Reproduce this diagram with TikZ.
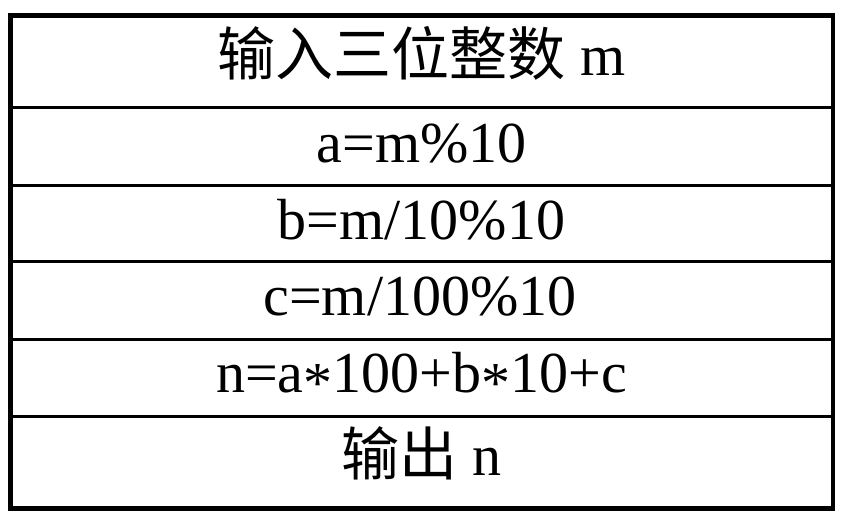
\documentclass[tikz,border=0pt]{standalone}
\usepackage{fontspec}
\setmainfont{Liberation Serif}
\newfontfamily\cjk{Noto Sans CJK SC}
\newcommand{\myast}{\raisebox{-0.18em}{*}}
\begin{document}
\begin{tikzpicture}[x=1pt,y=-1pt,
  rowline/.style={line width=3pt,draw=black},
  outer/.style={line width=4.5pt,draw=black},
  txt/.style={anchor=base,inner sep=0pt,font=\fontsize{58}{60}\selectfont}]
\useasboundingbox (0,0) rectangle (844,517);
\fill[white] (0,0) rectangle (844,517);
% separators
\coordinate (l1) at (10.5,107.5); \coordinate (r1) at (833,107.5);
\coordinate (l2) at (10.5,185);   \coordinate (r2) at (833,185);
\coordinate (l3) at (10.5,261.5); \coordinate (r3) at (833,261.5);
\coordinate (l4) at (10.5,339);   \coordinate (r4) at (833,339);
\coordinate (l5) at (10.5,416);   \coordinate (r5) at (833,416);
\draw[rowline] (l1) -- (r1);
\draw[rowline] (l2) -- (r2);
\draw[rowline] (l3) -- (r3);
\draw[rowline] (l4) -- (r4);
\draw[rowline] (l5) -- (r5);
\coordinate (tl) at (10.5,15.5); \coordinate (br) at (833,508.5);
\draw[outer] (tl) rectangle (br);
% texts
\node[txt] (t1) at (421.5,75) {{\cjk 输入三位整数} m};
\node[txt] (t2) at (421.5,162.5) {a=m\%10};
\node[txt] (t3) at (421.5,239) {b=m/10\%10};
\node[txt] (t4) at (420,315.5) {c=m/100\%10};
\node[txt] (t5) at (421.5,392) {n=a\myast100+b\myast10+c};
\node[txt] (t6) at (421.5,475) {{\cjk 输出} n};
\end{tikzpicture}
\end{document}
